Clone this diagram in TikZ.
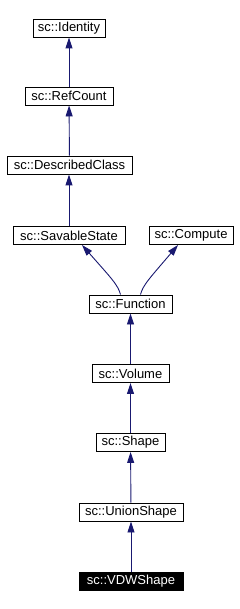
\documentclass[tikz,border=0pt]{standalone}
\usepackage{fontspec}
\setmainfont{Liberation Sans}
\usetikzlibrary{arrows.meta}
\definecolor{edgeblue}{HTML}{191970}
\begin{document}
\begin{tikzpicture}[x=1pt,y=-1pt,
  cls/.style={draw=black,line width=0.9pt,fill=white,inner sep=0pt,minimum height=18pt,font=\fontsize{13}{14}\selectfont},
  cur/.style={cls,fill=black,text=white},
  edge/.style={draw=edgeblue,line width=0.9pt,-{Triangle[length=11pt,width=7pt]}}]
\useasboundingbox (0,0) rectangle (240,609);
\node[cls,minimum width=72pt]  (identity) at (69,28) {sc::Identity};
\node[cls,minimum width=88pt]  (refcount) at (69,96) {sc::RefCount};
\node[cls,minimum width=125pt] (described) at (69.5,165) {sc::DescribedClass};
\node[cls,minimum width=112pt] (savable) at (69,235.5) {sc::SavableState};
\node[cls,minimum width=84pt]  (compute) at (191,235.5) {sc::Compute};
\node[cls,minimum width=83pt]  (function) at (130.5,304) {sc::Function};
\node[cls,minimum width=77pt]  (volume) at (130.5,373.5) {sc::Volume};
\node[cls,minimum width=69pt]  (shape) at (130.5,442.5) {sc::Shape};
\node[cls,minimum width=104pt] (union) at (131,512) {sc::UnionShape};
\node[cur,minimum width=104pt] (vdw) at (131,581.5) {sc::VDWShape};
\draw[edge] (refcount) -- (identity);
\draw[edge] (described) -- (refcount);
\draw[edge] (savable.north) -- (savable.north |- described.south);
\draw[edge] (function.north) ++(-10,0) coordinate (f1) .. controls (118,285) and (112,279) .. (82,245);
\draw[edge] (function.north) ++(10,0) coordinate (f2) .. controls (143,285) and (149,279) .. (178,245);
\draw[edge] (volume) -- (function);
\draw[edge] (shape) -- (volume);
\draw[edge] (union) -- (shape);
\draw[edge] (vdw) -- (union);
\end{tikzpicture}
\end{document}
